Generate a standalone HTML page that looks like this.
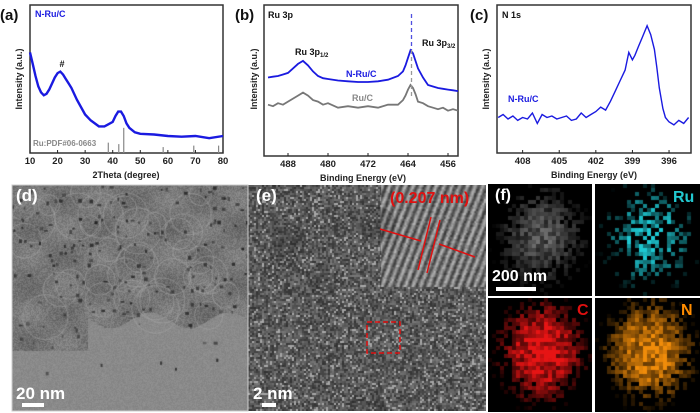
<!DOCTYPE html>
<html><head><meta charset="utf-8">
<style>
body{margin:0;background:#fff;width:700px;height:413px;overflow:hidden;position:relative;font-family:"Liberation Sans",sans-serif}
svg{position:absolute;left:0;top:0}
canvas{position:absolute}
.lbl{position:absolute;font-weight:bold;font-family:"Liberation Sans",sans-serif}
</style></head><body>
<svg id="charts" width="700" height="185"></svg>

<canvas id="cd" width="236" height="226" style="left:12px;top:185px"></canvas>
<canvas id="ce" width="238" height="226" style="left:248px;top:185px"></canvas>
<canvas id="cf1" width="104" height="112" style="left:488px;top:184px"></canvas>
<canvas id="cf2" width="105" height="112" style="left:595px;top:184px"></canvas>
<canvas id="cf3" width="104" height="114" style="left:488px;top:298px"></canvas>
<canvas id="cf4" width="105" height="114" style="left:595px;top:298px"></canvas>

<div class="lbl" style="left:16px;top:186px;color:#fff;font-size:17px">(d)</div>
<div class="lbl" style="left:16px;top:384px;color:#fff;font-size:17px">20 nm</div>
<div style="position:absolute;left:22px;top:403px;width:22px;height:4px;background:#fff"></div>
<div class="lbl" style="left:256px;top:186px;color:#fff;font-size:17px">(e)</div>
<div class="lbl" style="left:253px;top:384px;color:#fff;font-size:17px">2 nm</div>
<div style="position:absolute;left:262px;top:403px;width:14px;height:4px;background:#fff"></div>
<div class="lbl" style="left:390px;top:190px;color:#e01010;font-size:16px">(0.207 nm)</div>
<svg width="700" height="413" style="pointer-events:none">
<line x1="380" y1="229" x2="421" y2="241" stroke="#e01010" stroke-width="1.5"/>
<line x1="439" y1="244" x2="475" y2="257" stroke="#e01010" stroke-width="1.5"/>
<line x1="431" y1="217" x2="418" y2="270" stroke="#e01010" stroke-width="1.5"/>
<line x1="440" y1="220" x2="427" y2="273" stroke="#e01010" stroke-width="1.5"/>
<rect x="367" y="322" width="33" height="31" fill="none" stroke="#e01010" stroke-width="1.5" stroke-dasharray="5,3"/>
<rect x="12" y="185" width="236" height="226" fill="none" stroke="#ccc" stroke-width="1"/>
</svg>
<div class="lbl" style="left:495px;top:187px;color:#fff;font-size:16px">(f)</div>
<div class="lbl" style="left:492px;top:268px;color:#fff;font-size:16px">200 nm</div>
<div style="position:absolute;left:496px;top:287px;width:40px;height:4px;background:#fff"></div>
<div class="lbl" style="left:673px;top:189px;color:#22c8d0;font-size:16px">Ru</div>
<div class="lbl" style="left:577px;top:302px;color:#e01010;font-size:16px">C</div>
<div class="lbl" style="left:681px;top:302px;color:#ff8c00;font-size:16px">N</div>

<script>
// ---- data ----
const xrdX=[10,11,12,13,14,15,16,17,18,19,20,21,22,23,24,25,27,30,32,35,37,38,40,41,42,43,44,45,46,48,50,55,60,65,70,75,80];
const xrdY=[68,60,52,45,41,39,40,43,47,51,54,55,53,50,47,44,36,26,22,18,18,19,21,25,28,28,25,20,17,14,13,12.5,11.5,11,11.5,10,11.5];
const refX=[38.4,42.2,44.0,58.3,69.4,78.4];
const refH=[7,6,17,4,5,5];
const xrdTicks=[10,20,30,40,50,60,70,80];

const xpsE=[492,491,490,489,488,487,486,485,484,483,482,481,480,478,476,474,472,470,468,466,465,464.5,464,463.5,463,462.5,462,461,460,459,458,457,456,455,454];
const nrucY=[52,52.5,53,54,55,58,61,63,60,56,53,51.5,51,50,49.5,49,49,49.5,50.5,53,56,60,65,70,68,63,58,52,47,46,45,44.5,44,43.5,43];
const rucY=[34,33,35,34,36,38,40,42,40,37,36,34,35,32,33,32,33,32,34,34,37,40,44,47,45,41,36,35,33,32,31,32,30,31,30];
const xpsTicks=[488,480,472,464,456];
const peak32=463.3;

const n1sE=[410,409.6,409.2,408.8,408.4,408,407.6,407.2,406.8,406.4,406,405.6,405.2,404.8,404.4,404,403.6,403.2,402.8,402.4,402,401.6,401.2,400.8,400.4,400,399.6,399.3,399,398.8,398.5,398.2,397.8,397.5,397.2,397,396.8,396.5,396.3,396,395.6,395.2,394.8,394.4];
const n1sY=[24,26,23,25,22,24,23,27,20,26,24,25,23,24,25,22,23,27,24,26,28,31,29,35,42,49,56,68,63,66,72,78,86,80,70,58,44,30,24,21,19,22,20,24];
const n1sTicks=[408,405,402,399,396];

// ---- chart helpers ----
const S=document.getElementById('charts');
const NS='http://www.w3.org/2000/svg';
function mk(tag,attrs,txt){const e=document.createElementNS(NS,tag);for(const k in attrs)e.setAttribute(k,attrs[k]);if(txt!==undefined)e.textContent=txt;S.appendChild(e);return e;}
function axis(x0,x1,y0,y1,d0,d1){return {sx:v=>x0+(v-d0)/(d1-d0)*(x1-x0),sy:v=>y1-v/100*(y1-y0)};}
function frame(x0,y0,x1,y1,name){const r=mk('rect',{x:x0,y:y0,width:x1-x0,height:y1-y0,fill:'none',stroke:'#333','stroke-width':1.5});

}
function ticks(A,vals,y1,cls,name){vals.forEach(v=>{const x=A.sx(v);mk('line',{x1:x,x2:x,y1:y1,y2:y1-3,stroke:'#222'});
const t=mk('text',{x:x,y:y1+11,'text-anchor':'middle','font-size':9.5,'font-weight':'bold',fill:'#222'},v);

});}
function line(A,xs,ys,color,name,w){const p=mk('polyline',{points:xs.map((x,i)=>A.sx(x).toFixed(1)+','+A.sy(ys[i]).toFixed(1)).join(' '),fill:'none',stroke:color,'stroke-width':w||1.4});

}
function txt(x,y,s,size,color,name,anchor,rot){const a={x:x,y:y,'font-size':size,'font-weight':'bold',fill:color};if(anchor)a['text-anchor']=anchor;if(rot)a.transform='rotate(-90 '+x+' '+y+')';const t=mk('text',a,s);

return t;}

// (a)
const A=axis(30,223,5,153,10,80);
frame(30,5,223,153,'xrd-plot-frame');
ticks(A,xrdTicks,153,'','xrd-x');
refX.forEach((v,i)=>{const l=mk('line',{x1:A.sx(v),x2:A.sx(v),y1:153,y2:A.sy(refH[i]),stroke:'#888','stroke-width':1.2});

});
line(A,xrdX,xrdY,'#1a1ae0','xrd-curve',2.4);
txt(0,20,'(a)',15,'#111','panel-label-a');
txt(35,17,'N-Ru/C',9,'#1a1ae0','xrd-legend');
txt(62,67,'#',9,'#111','carbon-peak-marker','middle');
txt(33,146,'Ru:PDF#06-0663',8,'#888','ref-card-label');
txt(22,79,'Intensity (a.u.)',9,'#222','xrd-y-title','middle',true);
txt(126,178,'2Theta (degree)',9,'#222','xrd-x-title','middle');

// (b)
const B=axis(264,458,5,156,492.8,454);
frame(264,5,458,156,'ru3p-plot-frame');
ticks(B,xpsTicks,156,'','ru3p-x');
line(B,xpsE,rucY,'#777','ruc-curve',1.8);
line(B,xpsE,nrucY,'#1a1ae0','nruc-curve',1.8);
const dl1=mk('line',{x1:B.sx(peak32),x2:B.sx(peak32),y1:14,y2:50,stroke:'#5050e0','stroke-width':1.3,'stroke-dasharray':'4,3'});


const dl2=mk('line',{x1:B.sx(peak32),x2:B.sx(peak32),y1:50,y2:98,stroke:'#999','stroke-width':1.3,'stroke-dasharray':'4,3'});


txt(235,20,'(b)',15,'#111','panel-label-b');
txt(268,18,'Ru 3p',9,'#111','ru3p-title');
const t1=txt(295,55,'Ru 3p',9,'#111','ru3p12-label');const s1=document.createElementNS(NS,'tspan');s1.setAttribute('font-size',6);s1.setAttribute('dy',2);s1.textContent='1/2';t1.appendChild(s1);
const t2=txt(422,46,'Ru 3p',9,'#111','ru3p32-label');const s2=document.createElementNS(NS,'tspan');s2.setAttribute('font-size',6);s2.setAttribute('dy',2);s2.textContent='3/2';t2.appendChild(s2);
txt(346,77,'N-Ru/C',9,'#1a1ae0','nruc-label');
txt(352,101,'Ru/C',9,'#888','ruc-label');
txt(257,79,'Intensity (a.u.)',9,'#222','ru3p-y-title','middle',true);
txt(363,181,'Binding Energy (eV)',9,'#222','ru3p-x-title','middle');

// (c)
const C=axis(497,691,5,153,410.1,394.2);
frame(497,5,691,153,'n1s-plot-frame');
ticks(C,n1sTicks,153,'','n1s-x');
line(C,n1sE,n1sY,'#1a1ae0','n1s-curve',1.4);
txt(470,20,'(c)',15,'#111','panel-label-c');
txt(502,18,'N 1s',9,'#111','n1s-title');
txt(508,102,'N-Ru/C',9,'#1a1ae0','n1s-legend');
txt(489,79,'Intensity (a.u.)',9,'#222','n1s-y-title','middle',true);
txt(594,178,'Binding Energy (eV)',9,'#222','n1s-x-title','middle');

// ---- microscopy textures (decorative) ----
let seed=7;function rnd(){seed=(seed*16807)%2147483647;return seed/2147483647;}
function noiseImg(id,fn){const c=document.getElementById(id),g=c.getContext('2d'),w=c.width,h=c.height,im=g.createImageData(w,h);
for(let y=0;y<h;y++)for(let x=0;x<w;x++){const v=fn(x,y,w,h),i=(y*w+x)*4;im.data[i]=v[0];im.data[i+1]=v[1];im.data[i+2]=v[2];im.data[i+3]=255;}g.putImageData(im,0,0);return g;}
// (d): mottled upper area, smoother lighter lower area
function dLight(x,y){return (x>75&&y>135+Math.sin(x*0.08)*8)||(y>165);}
const gd=noiseImg('cd',(x,y)=>{let v;if(dLight(x,y))v=138+(rnd()-0.5)*16;else v=118+(rnd()-0.5)*34+12*Math.sin(x*0.09)*Math.sin(y*0.11);return [v,v,v];});
for(let k=0;k<40;k++){const x=rnd()*236,y=rnd()*140;if(dLight(x,y))continue;gd.strokeStyle='rgba(170,170,170,0.5)';gd.beginPath();gd.arc(x,y,10+rnd()*14,0,7);gd.stroke();}
for(let k=0;k<260;k++){const x=rnd()*236,y=rnd()*200;if(dLight(x,y)&&rnd()<0.92)continue;gd.fillStyle='rgba(25,25,25,'+(0.35+rnd()*0.45)+')';gd.fillRect(x,y,1.5+rnd()*2.5,1.5+rnd()*2.5);}
// (e)
const eb=[];for(let i=0;i<120*114;i++)eb.push(rnd());
const ge=noiseImg('ce',(x,y)=>{const r=eb[((y>>1)*120+(x>>1))%eb.length];let v=90+(r-0.5)*80;if(r>0.9)v+=40;if(x>132&&y<102){v=120+45*Math.sin((x*0.9+y*0.35)*0.9)+(r-0.5)*35;}return [v,v,v];});
ge.fillStyle='rgba(30,30,30,0.18)';[[40,60,20],[75,95,16],[130,40,18],[120,230,22]].forEach(p=>{ge.beginPath();ge.arc(p[0],p[1],p[2],0,7);ge.fill();});
// (f) maps
function blob(x,y,w,h){const cx=(x-w*0.5)/w,cy=(y-h*0.45)/h;return Math.max(0,1-Math.sqrt(cx*cx*3.5+cy*cy*3));}
function pixMap(id,col,dens,bright){const c=document.getElementById(id),g=c.getContext('2d');g.fillStyle='#000';g.fillRect(0,0,c.width,c.height);
for(let y=0;y<c.height;y+=4)for(let x=0;x<c.width;x+=4){const b=blob(x,y,c.width,c.height);if(rnd()<b*dens){const a=Math.min(1,b*bright*(0.5+rnd()));g.fillStyle='rgba('+col+','+a+')';g.fillRect(x,y,4,4);}}}
pixMap('cf1','200,200,200',1.6,0.45);
pixMap('cf2','30,200,210',0.8,1.1);
pixMap('cf3','230,20,20',2.0,1.2);
pixMap('cf4','240,140,10',2.0,1.1);
</script>
</body></html>
